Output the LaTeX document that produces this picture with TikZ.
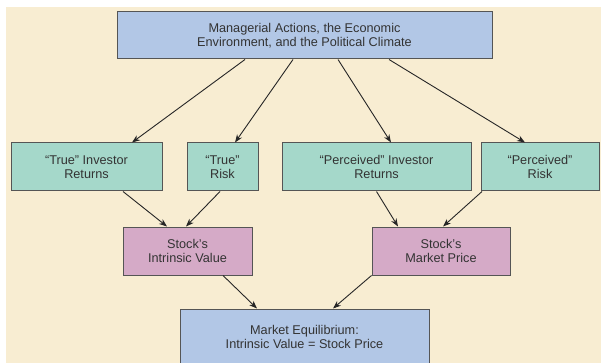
\documentclass[tikz,border=0pt]{standalone}
\usepackage{fontspec}
\setmainfont{Liberation Sans}
\usetikzlibrary{arrows.meta}
\definecolor{bgcream}{HTML}{F8EDD2}
\definecolor{boxblue}{HTML}{B2C7E6}
\definecolor{boxteal}{HTML}{A5D8CA}
\definecolor{boxpink}{HTML}{D5AAC7}
\definecolor{edgegray}{HTML}{555555}
\definecolor{txtgray}{HTML}{333333}

\begin{document}
\begin{tikzpicture}[x=1pt,y=-1pt,sty1/.style={draw=edgegray, line width=1.0pt, text=txtgray,
    align=center, inner sep=0pt, font=\fontsize{12.7}{13.5}\selectfont},
  sty2/.style={color=black!85, line width=0.9pt, -{Stealth[length=8pt,width=6pt]}},
  styblue/.style={sty1, fill=boxblue}, styteal/.style={sty1, fill=boxteal},
  stypink/.style={sty1, fill=boxpink}]

%%%%%%%%%%%  Making a helping grid %%%%%%%%%%%%%%%%%%%%%
% \draw[step=50,gray,very thin] (0,0) grid (600,360);
% \foreach \x in {0,100,...,600}
% \draw (\x,0) node[anchor = south,font=\tiny] {\x};
%%%%%%%%%%%%%%%%%%%%%%%%%%%%%%%%%%%%%%%%%%%%%%%%%%%%%%%

% Page and background:
\useasboundingbox[fill=white] (0,0) rectangle (601,363);
\fill[bgcream] (6,7) rectangle (601,363);

% Top box:
\node[styblue, minimum width=375, minimum height=47] (env) at (304.5,35.5)
  {Managerial Actions, the Economic\\Environment, and the Political Climate};

% Second row, true and perceived:
\node[styteal, minimum width=151, minimum height=48] (trueret) at (86.5,167)
  {``True'' Investor\\Returns};
\node[styteal, minimum width=71, minimum height=48] (truerisk) at (222.5,167)
  {``True''\\Risk};
\node[styteal, minimum width=189, minimum height=48] (percret) at (376.5,167)
  {``Perceived'' Investor\\Returns};
\node[styteal, minimum width=118, minimum height=48] (percrisk) at (540,167)
  {``Perceived''\\Risk};

% Third row, value and price:
\node[stypink, minimum width=129, minimum height=48] (intrinsic) at (187.5,251)
  {Stock's\\Intrinsic Value};
\node[stypink, minimum width=138, minimum height=48] (price) at (441,251)
  {Stock's\\Market Price};

% Bottom box (runs off the page):
\node[styblue, minimum width=249, minimum height=56] (equil) at (304.5,337)
  {Market Equilibrium:\\Intrinsic Value = Stock Price};

% Arrows from the top box
\draw[sty2] ([xshift=-59.5]env.south) -- ([xshift=45.5]trueret.north);
\draw[sty2] ([xshift=-11.5]env.south) -- ([xshift=12.5]truerisk.north);
\draw[sty2] ([xshift=33.5]env.south) -- ([xshift=14.5]percret.north);
\draw[sty2] ([xshift=84.5]env.south) -- ([xshift=-15]percrisk.north);

% Arrows to value and price
\draw[sty2] ([xshift=36.5]trueret.south) -- ([xshift=-20.5]intrinsic.north);
\draw[sty2] ([xshift=-2.5]truerisk.south) -- ([xshift=-1.5]intrinsic.north);
\draw[sty2] (percret.south) -- ([xshift=-43]price.north);
\draw[sty2] ([xshift=-58]percrisk.south) -- ([xshift=2]price.north);

% Arrows to the equilibrium
\draw[sty2] ([xshift=35.5]intrinsic.south) -- ([xshift=-47.5]equil.north);
\draw[sty2] (price.south west) -- ([xshift=28.5]equil.north);

\end{tikzpicture}
\end{document}
